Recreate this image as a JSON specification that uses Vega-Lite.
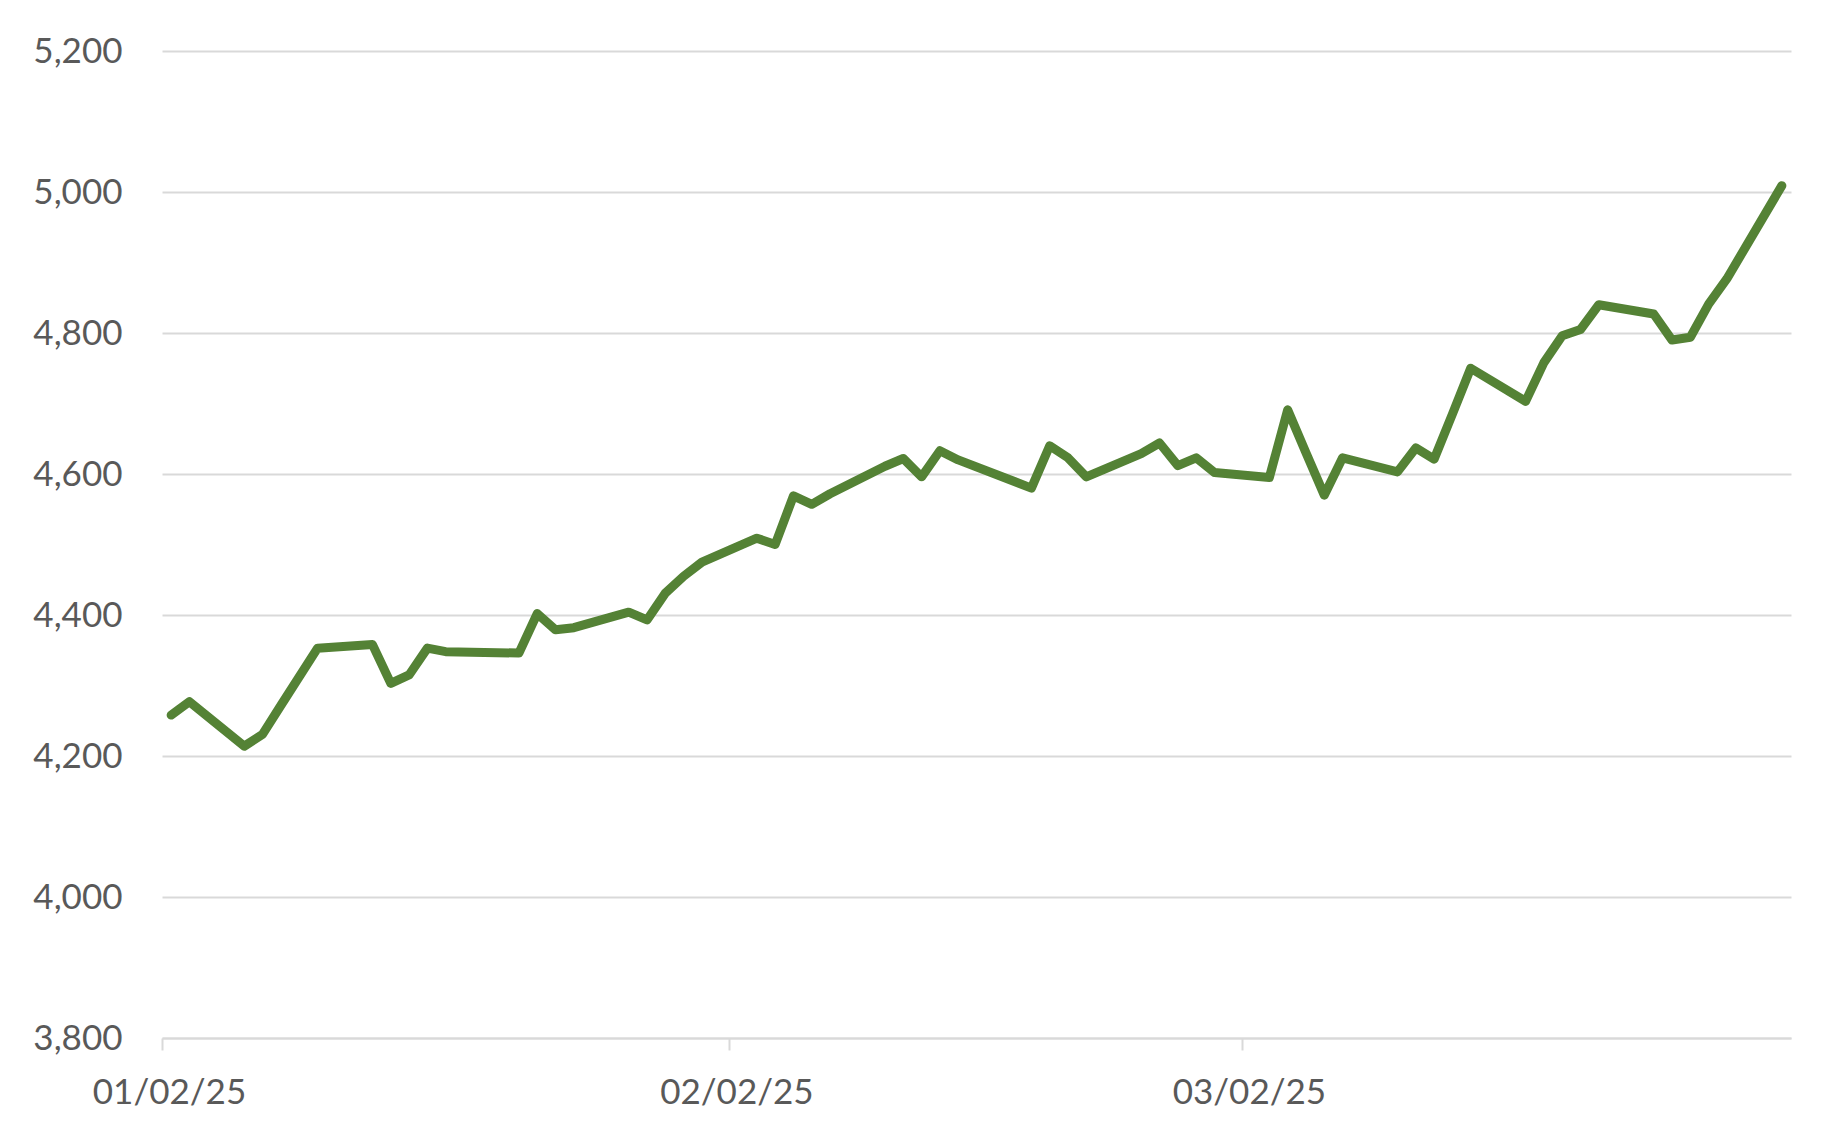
{
  "$schema": "https://vega.github.io/schema/vega-lite/v6.json",
  "width": 1629,
  "height": 987,
  "autosize": {"type": "none"},
  "padding": {"left": 162, "top": 51, "right": 50, "bottom": 108},
  "background": "white",
  "config": {
    "view": {"stroke": null},
    "font": "Lato",
    "axis": {
      "labelFont": "Lato",
      "labelFontSize": 35,
      "labelColor": "#595959",
      "gridColor": "#d9d9d9",
      "gridWidth": 2,
      "title": null
    }
  },
  "data": {
    "values": [
      {"date": "2025-01-02T12:00:00", "value": 4258},
      {"date": "2025-01-03T12:00:00", "value": 4277},
      {"date": "2025-01-06T12:00:00", "value": 4214},
      {"date": "2025-01-07T12:00:00", "value": 4231},
      {"date": "2025-01-08T12:00:00", "value": 4272},
      {"date": "2025-01-10T12:00:00", "value": 4353},
      {"date": "2025-01-13T12:00:00", "value": 4358},
      {"date": "2025-01-14T12:00:00", "value": 4303},
      {"date": "2025-01-15T12:00:00", "value": 4315},
      {"date": "2025-01-16T12:00:00", "value": 4353},
      {"date": "2025-01-17T12:00:00", "value": 4348},
      {"date": "2025-01-21T12:00:00", "value": 4346},
      {"date": "2025-01-22T12:00:00", "value": 4402},
      {"date": "2025-01-23T12:00:00", "value": 4379},
      {"date": "2025-01-24T12:00:00", "value": 4382},
      {"date": "2025-01-27T12:00:00", "value": 4404},
      {"date": "2025-01-28T12:00:00", "value": 4393},
      {"date": "2025-01-29T12:00:00", "value": 4431},
      {"date": "2025-01-30T12:00:00", "value": 4455},
      {"date": "2025-01-31T12:00:00", "value": 4475},
      {"date": "2025-02-03T12:00:00", "value": 4509},
      {"date": "2025-02-04T12:00:00", "value": 4500},
      {"date": "2025-02-05T12:00:00", "value": 4569},
      {"date": "2025-02-06T12:00:00", "value": 4557},
      {"date": "2025-02-07T12:00:00", "value": 4572},
      {"date": "2025-02-10T12:00:00", "value": 4611},
      {"date": "2025-02-11T12:00:00", "value": 4622},
      {"date": "2025-02-12T12:00:00", "value": 4596},
      {"date": "2025-02-13T12:00:00", "value": 4633},
      {"date": "2025-02-14T12:00:00", "value": 4620},
      {"date": "2025-02-18T12:00:00", "value": 4580},
      {"date": "2025-02-19T12:00:00", "value": 4640},
      {"date": "2025-02-20T12:00:00", "value": 4623},
      {"date": "2025-02-21T12:00:00", "value": 4596},
      {"date": "2025-02-24T12:00:00", "value": 4629},
      {"date": "2025-02-25T12:00:00", "value": 4644},
      {"date": "2025-02-26T12:00:00", "value": 4612},
      {"date": "2025-02-27T12:00:00", "value": 4623},
      {"date": "2025-02-28T12:00:00", "value": 4602},
      {"date": "2025-03-03T12:00:00", "value": 4595},
      {"date": "2025-03-04T12:00:00", "value": 4691},
      {"date": "2025-03-05T12:00:00", "value": 4630},
      {"date": "2025-03-06T12:00:00", "value": 4570},
      {"date": "2025-03-07T12:00:00", "value": 4623},
      {"date": "2025-03-10T12:00:00", "value": 4603},
      {"date": "2025-03-11T12:00:00", "value": 4637},
      {"date": "2025-03-12T12:00:00", "value": 4621},
      {"date": "2025-03-13T12:00:00", "value": 4685},
      {"date": "2025-03-14T12:00:00", "value": 4750},
      {"date": "2025-03-17T12:00:00", "value": 4703},
      {"date": "2025-03-18T12:00:00", "value": 4758},
      {"date": "2025-03-19T12:00:00", "value": 4796},
      {"date": "2025-03-20T12:00:00", "value": 4805},
      {"date": "2025-03-21T12:00:00", "value": 4840},
      {"date": "2025-03-24T12:00:00", "value": 4827},
      {"date": "2025-03-25T12:00:00", "value": 4790},
      {"date": "2025-03-26T12:00:00", "value": 4794},
      {"date": "2025-03-27T12:00:00", "value": 4841},
      {"date": "2025-03-28T12:00:00", "value": 4877},
      {"date": "2025-03-31T12:00:00", "value": 5009}
    ]
  },
  "mark": {
    "type": "line",
    "color": "#548235",
    "strokeWidth": 9,
    "strokeCap": "round",
    "strokeJoin": "round"
  },
  "encoding": {
    "x": {
      "field": "date",
      "type": "temporal",
      "scale": {
        "domain": [
          {"year": 2025, "month": 1, "date": 2},
          {"year": 2025, "month": 4, "date": 1}
        ],
        "nice": false
      },
      "axis": {
        "values": [
          {"year": 2025, "month": 1, "date": 2},
          {"year": 2025, "month": 2, "date": 2},
          {"year": 2025, "month": 3, "date": 2}
        ],
        "format": "%m/%d/%y",
        "grid": false,
        "domainColor": "#d9d9d9",
        "domainWidth": 2,
        "tickColor": "#d9d9d9",
        "tickWidth": 2,
        "tickSize": 12,
        "labelPadding": 25,
        "labelOffset": 7,
        "labelFlush": false,
        "labelOverlap": false,
        "labelAngle": 0,
        "labelBaseline": "top"
      }
    },
    "y": {
      "field": "value",
      "type": "quantitative",
      "scale": {"domain": [3800, 5200], "nice": false, "zero": false},
      "axis": {
        "values": [3800, 4000, 4200, 4400, 4600, 4800, 5000, 5200],
        "format": ",.0f",
        "domain": false,
        "ticks": false,
        "tickSize": 0,
        "labelPadding": 40
      }
    }
  }
}
